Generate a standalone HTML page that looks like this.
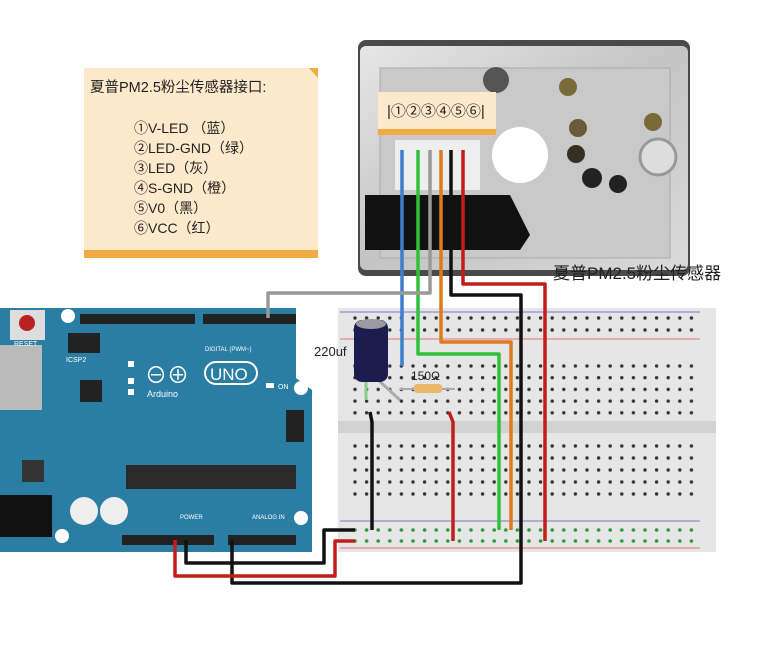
<!DOCTYPE html>
<html><head><meta charset="utf-8"><style>
html,body{margin:0;padding:0;background:#fff;width:768px;height:650px;overflow:hidden}
svg{display:block}
text{font-family:"Liberation Sans","Noto Sans CJK SC",sans-serif}
</style></head><body>
<svg width="768" height="650" viewBox="0 0 768 650" xmlns="http://www.w3.org/2000/svg">
<defs>
<pattern id="d1" x="351" y="362" width="11.6" height="11.7" patternUnits="userSpaceOnUse"><circle cx="4" cy="4" r="1.7" fill="#333"/></pattern>
<pattern id="d2" x="351" y="442" width="11.6" height="12" patternUnits="userSpaceOnUse"><circle cx="4" cy="4" r="1.7" fill="#333"/></pattern>
<pattern id="d3" x="351" y="314" width="11.6" height="12" patternUnits="userSpaceOnUse"><circle cx="4" cy="4" r="1.7" fill="#333"/></pattern>
<pattern id="d4" x="351" y="526" width="11.6" height="11" patternUnits="userSpaceOnUse"><circle cx="4" cy="4" r="1.8" fill="#2a9a3a"/></pattern>
<linearGradient id="met" x1="0" y1="0" x2="1" y2="1">
<stop offset="0" stop-color="#e6e6e6"/><stop offset="0.5" stop-color="#c4c4c4"/><stop offset="1" stop-color="#dadada"/></linearGradient>
</defs>
<!-- note -->
<rect x="84" y="68" width="234" height="190" fill="#fde9cb"/>
<rect x="84" y="250" width="234" height="8" fill="#f0ac43"/>
<polygon points="309,68 318,68 318,78" fill="#f0ac43"/>
<text x="90" y="92" font-size="14.5" fill="#222">夏普PM2.5粉尘传感器接口:</text>
<g font-size="14" fill="#222">
<text x="134" y="133">①V-LED （蓝）</text>
<text x="134" y="153">②LED-GND（绿）</text>
<text x="134" y="173">③LED（灰）</text>
<text x="134" y="193">④S-GND（橙）</text>
<text x="134" y="213">⑤V0（黑）</text>
<text x="134" y="233">⑥VCC（红）</text>
</g>
<!-- sensor -->
<rect x="358" y="40" width="332" height="236" rx="8" fill="#4a4a4a"/>
<rect x="360" y="46" width="328" height="224" rx="6" fill="url(#met)"/>
<rect x="380" y="68" width="290" height="190" fill="#c9c9c9" stroke="#aaa"/>
<polygon points="365,195 510,195 530,235 520,250 365,250" fill="#111"/>
<rect x="395" y="140" width="85" height="50" fill="#eee"/>
<circle cx="520" cy="155" r="28" fill="#fff"/>
<circle cx="496" cy="80" r="13" fill="#555"/>
<circle cx="568" cy="87" r="9" fill="#7a6a3a"/><circle cx="578" cy="128" r="9" fill="#6a5a3a"/>
<circle cx="576" cy="154" r="9" fill="#332f25"/><circle cx="592" cy="178" r="10" fill="#222"/>
<circle cx="618" cy="184" r="9" fill="#222"/><circle cx="653" cy="122" r="9" fill="#7a6a3a"/>
<circle cx="658" cy="157" r="18" fill="#ddd" stroke="#999" stroke-width="3"/>
<rect x="378" y="92" width="118" height="43" fill="#fde9cb"/>
<rect x="378" y="129" width="118" height="6" fill="#f0ac43"/>
<text x="387" y="116" font-size="15" fill="#222">|①②③④⑤⑥|</text>
<text x="553" y="279" font-size="17" fill="#222" font-family="Liberation Serif,'Noto Serif CJK SC',serif">夏普PM2.5粉尘传感器</text>
<!-- breadboard -->
<rect x="338" y="308" width="378" height="244" fill="#e6e6e6"/>
<rect x="338" y="421" width="378" height="12" fill="#d2d2d2"/>
<line x1="340" y1="312" x2="700" y2="312" stroke="#7777cc"/>
<line x1="340" y1="339" x2="700" y2="339" stroke="#dd7777"/>
<line x1="340" y1="521" x2="700" y2="521" stroke="#7777cc"/>
<line x1="340" y1="548" x2="700" y2="548" stroke="#dd7777"/>
<rect x="351" y="314" width="345" height="22" fill="url(#d3)"/>
<rect x="351" y="362" width="345" height="56" fill="url(#d1)"/>
<rect x="351" y="442" width="345" height="58" fill="url(#d2)"/>
<rect x="351" y="526" width="345" height="20" fill="url(#d4)"/>
<!-- arduino -->
<path d="M0 308 H296 V378 L312 390 V552 H0 Z" fill="#2b7ea3"/>
<rect x="0" y="345" width="42" height="65" fill="#bbb"/>
<rect x="0" y="495" width="52" height="42" fill="#111"/>
<rect x="10" y="310" width="35" height="30" fill="#ddd"/><circle cx="27" cy="323" r="8" fill="#b22"/>
<text x="14" y="346" font-size="7" fill="#fff">RESET</text>
<circle cx="68" cy="316" r="7" fill="#fff"/><circle cx="301" cy="388" r="7" fill="#fff"/>
<circle cx="301" cy="518" r="7" fill="#fff"/><circle cx="62" cy="536" r="7" fill="#fff"/>
<rect x="80" y="314" width="115" height="10" fill="#222"/><rect x="203" y="314" width="93" height="10" fill="#222"/>
<rect x="68" y="333" width="32" height="20" fill="#222"/>
<text x="66" y="362" font-size="7" fill="#fff">ICSP2</text>
<text x="205" y="351" font-size="6" fill="#fff">DIGITAL (PWM~)</text>
<rect x="128" y="361" width="6" height="6" fill="#fff"/><rect x="128" y="378" width="6" height="6" fill="#fff"/><rect x="128" y="389" width="6" height="6" fill="#fff"/>
<rect x="80" y="380" width="22" height="22" fill="#222"/>
<text x="145" y="383" font-size="22" fill="#fff">⊖⊕</text>
<rect x="205" y="362" width="52" height="22" rx="11" fill="none" stroke="#fff" stroke-width="2"/>
<text x="210" y="380" font-size="17" fill="#fff">UNO</text>
<text x="147" y="397" font-size="9" fill="#fff">Arduino</text>
<rect x="266" y="383" width="8" height="5" fill="#fff"/><text x="278" y="389" font-size="7" fill="#fff">ON</text>
<rect x="286" y="410" width="18" height="32" fill="#222"/>
<rect x="126" y="465" width="170" height="24" fill="#2a2a2a"/>
<rect x="22" y="460" width="22" height="22" fill="#333"/>
<circle cx="84" cy="511" r="14" fill="#eee"/><circle cx="114" cy="511" r="14" fill="#eee"/>
<rect x="122" y="535" width="92" height="10" fill="#222"/><rect x="228" y="535" width="68" height="10" fill="#222"/>
<text x="180" y="519" font-size="6" fill="#fff">POWER</text><text x="252" y="519" font-size="6" fill="#fff">ANALOG IN</text>
<!-- capacitor & resistor -->
<text x="314" y="356" font-size="13" fill="#222" font-family="Liberation Serif,serif">220uf</text>
<line x1="366" y1="378" x2="366" y2="400" stroke="#8c8" stroke-width="3"/>
<line x1="376" y1="378" x2="400" y2="400" stroke="#aaa" stroke-width="3"/>
<rect x="354" y="320" width="34" height="62" rx="8" fill="#1c1c4e"/>
<ellipse cx="371" cy="324" rx="15" ry="5" fill="#9a9aa0"/>
<line x1="400" y1="389" x2="455" y2="389" stroke="#aaa" stroke-width="2"/>
<rect x="414" y="384" width="28" height="9" rx="3" fill="#e9b86a"/>
<text x="411" y="380" font-size="12" fill="#222" font-family="Liberation Serif,serif">150Ω</text>
<!-- wires -->
<g fill="none" stroke-width="3.5" stroke-linejoin="round">
<polyline points="402,150 402,366" stroke="#3b7fd0"/>
<polyline points="418,150 418,354 499,354 499,530" stroke="#2fc13a"/>
<polyline points="430,150 430,293 268,293 268,318" stroke="#999"/>
<polyline points="441,150 441,342 511,342 511,530" stroke="#e07a20"/>
<polyline points="451,150 451,295 521,295 521,583 232,583 232,540" stroke="#111"/>
<polyline points="463,150 463,284 545,284 545,541" stroke="#c21d1d"/>
<polyline points="370,412 372,422 372,530" stroke="#111"/>
<polyline points="449,412 453,422 453,541" stroke="#c21d1d"/>
<polyline points="175,540 175,576 335,576 335,541 355,541" stroke="#c21d1d"/>
<polyline points="186,540 186,563 324,563 324,530 355,530" stroke="#111"/>
</g>
</svg>
</body></html>
